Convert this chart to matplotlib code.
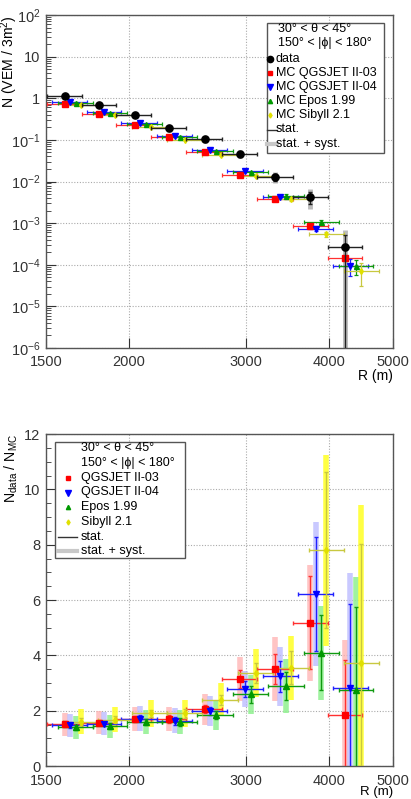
import numpy as np
import matplotlib
matplotlib.use('Agg')
import matplotlib.pyplot as plt
from matplotlib.ticker import FixedLocator, FuncFormatter, LogLocator, MultipleLocator, NullLocator, NullFormatter
from matplotlib.patches import Rectangle
from matplotlib.lines import Line2D

plt.rcParams['font.family'] = ['Liberation Sans', 'DejaVu Sans']
plt.rcParams['mathtext.fontset'] = 'custom'
plt.rcParams['mathtext.rm'] = 'Liberation Sans'
plt.rcParams['mathtext.it'] = 'Liberation Sans:italic'
plt.rcParams['mathtext.bf'] = 'Liberation Sans:bold'

# ---------------- data ----------------
R_center = [1600, 1800, 2040, 2300, 2600, 2940, 3320, 3750, 4230]
R_edges = [1505, 1700, 1910, 2160, 2440, 2760, 3120, 3530, 3985, 4495]

data_N = [1.12, 0.67, 0.40, 0.19, 0.103, 0.047, 0.0129, 0.0043, 2.6e-4]
data_stat_rel = [0.03, 0.03, 0.04, 0.05, 0.06, 0.10, 0.20, 0.32, 1.04]
data_tot_rel = [0.15, 0.15, 0.16, 0.17, 0.18, 0.22, 0.30, 0.50, 1.70]

qgs03_N = [0.74, 0.42, 0.225, 0.115, 0.050, 0.0147, 0.0037, 8.4e-4, 1.45e-4]
qgs04_N = [0.80, 0.46, 0.25, 0.125, 0.056, 0.0175, 0.0043, 7.2e-4, 9.5e-5]
epos_N = [0.78, 0.44, 0.24, 0.118, 0.053, 0.0165, 0.0046, 1.08e-3, 9.2e-5]
sib_N = [0.70, 0.39, 0.205, 0.101, 0.043, 0.0138, 0.0037, 5.4e-4, 7.0e-5]

qgs03_rel = [0.02, 0.02, 0.03, 0.03, 0.04, 0.05, 0.07, 0.12, 0.12]
qgs04_rel = [0.02, 0.02, 0.03, 0.03, 0.04, 0.05, 0.07, 0.12, 0.42]
epos_rel = [0.02, 0.02, 0.03, 0.03, 0.04, 0.05, 0.07, 0.10, 0.38]
sib_rel = [0.02, 0.02, 0.03, 0.03, 0.04, 0.05, 0.08, 0.15, 0.55]

ratio_qgs03 = [1.51, 1.57, 1.70, 1.70, 2.05, 3.14, 3.50, 5.17, 1.85]
ratio_qgs04 = [1.47, 1.53, 1.71, 1.63, 1.99, 2.79, 3.24, 6.21, 2.81]
ratio_epos = [1.40, 1.44, 1.59, 1.59, 1.85, 2.59, 2.88, 4.09, 2.74]
ratio_sib = [1.60, 1.68, 1.90, 1.90, 2.40, 3.36, 3.55, 7.80, 3.74]

ratio_qgs03_stat = [0.10, 0.10, 0.12, 0.13, 0.15, 0.33, 0.55, 1.68, 1.97]
ratio_qgs03_tot = [0.42, 0.42, 0.45, 0.45, 0.55, 0.80, 1.15, 2.10, 2.70]
ratio_qgs04_stat = [0.10, 0.10, 0.12, 0.13, 0.15, 0.30, 0.55, 2.05, 3.04]
ratio_qgs04_tot = [0.42, 0.42, 0.45, 0.45, 0.55, 0.65, 1.07, 2.60, 4.15]
ratio_epos_stat = [0.10, 0.10, 0.12, 0.13, 0.15, 0.30, 0.50, 1.35, 3.00]
ratio_epos_tot = [0.42, 0.42, 0.45, 0.45, 0.55, 0.70, 0.97, 1.70, 4.10]
ratio_sib_stat = [0.12, 0.12, 0.14, 0.15, 0.18, 0.35, 0.60, 2.83, 4.30]
ratio_sib_tot = [0.45, 0.45, 0.50, 0.50, 0.60, 0.87, 1.15, 3.45, 5.70]

labels_top = ['data', 'MC QGSJET II-03', 'MC QGSJET II-04', 'MC Epos 1.99', 'MC Sibyll 2.1']
labels_bot = ['QGSJET II-03', 'QGSJET II-04', 'Epos 1.99', 'Sibyll 2.1']
header = ['30° < θ < 45°', '150° < |ϕ| < 180°']
xticks = [1500, 2000, 3000, 4000, 5000]

# ---------------- style ----------------
W, H = 411, 799
fig = plt.figure(figsize=(W / 100, H / 100), dpi=100)


def fx(px):
    return px / W


def fy(py):
    return 1 - py / H


ax1 = fig.add_axes([fx(46), fy(348), fx(393) - fx(46), fy(15) - fy(348)])
ax2 = fig.add_axes([fx(46), fy(766), fx(393) - fx(46), fy(434) - fy(766)])

series = [
    dict(c='#ff0000', band='#ffb0b0', m='s', ms=4.0, shift=1.000, ec='#ff3030'),
    dict(c='#0000ff', band='#b8b8ff', m='v', ms=4.3, shift=1.019, ec='#2020ff'),
    dict(c='#009900', band='#8ff08f', m='^', ms=3.6, shift=1.039, ec='#109a10'),
    dict(c='#e0e000', band='#ffff30', m='d', ms=3.0, shift=1.058, ec='#c8c840'),
]

R = np.array(R_center, float)
lo = np.array(R_edges[:-1], float)
hi = np.array(R_edges[1:], float)
frame_c = '#555555'


def style_axes(ax, xpad):
    ax.set_xscale('log')
    ax.set_xlim(1500, 5000)
    ax.xaxis.set_major_locator(FixedLocator(xticks))
    ax.xaxis.set_major_formatter(FuncFormatter(lambda v, p: f'{int(round(v))}'))
    ax.xaxis.set_minor_locator(NullLocator())
    ax.xaxis.set_minor_formatter(NullFormatter())
    for s in ax.spines.values():
        s.set_color(frame_c)
        s.set_linewidth(1.0)
    ax.tick_params(which='both', direction='in', colors='#333333', labelsize=10.5,
                   top=False, right=False)
    ax.tick_params(axis='y', which='major', length=7, pad=4)
    ax.tick_params(axis='y', which='minor', length=3.5)
    ax.tick_params(axis='x', which='major', length=7, pad=xpad)
    ax.grid(True, which='major', ls=(0, (1, 1.5)), color='#aaaaaa', lw=0.8)
    ax.set_axisbelow(True)


# ---------------- top panel ----------------
ax = ax1
style_axes(ax, 5)
ax.set_yscale('log')
ax.set_ylim(1e-6, 1e2)
ax.yaxis.set_major_locator(LogLocator(base=10, numticks=20))
ax.yaxis.set_minor_locator(LogLocator(base=10, subs=np.arange(2, 10), numticks=20))
ax.yaxis.set_minor_formatter(NullFormatter())


def logfmt(v, p):
    e = int(round(np.log10(v)))
    if e == 0:
        return '1'
    if e == 1:
        return '10'
    return r'10$^{%d}$' % e


ax.yaxis.set_major_formatter(FuncFormatter(logfmt))

dN = np.array(data_N)
st_up = dN * np.array(data_stat_rel)
st_lo = np.minimum(st_up, dN - 1e-9)
tt_up = dN * np.array(data_tot_rel)
tt_lo = np.minimum(tt_up, dN - 1e-9)

ax.errorbar(R, dN, yerr=[tt_lo, tt_up], fmt='none', ecolor='#bbbbbb', elinewidth=3.5,
            capsize=0, zorder=2)

for vals, rel, st in zip([qgs03_N, qgs04_N, epos_N, sib_N],
                         [qgs03_rel, qgs04_rel, epos_rel, sib_rel], series):
    v = np.array(vals)
    e = v * np.array(rel)
    x = R * st['shift']
    ax.errorbar(x, v, yerr=e, xerr=[x - lo * st['shift'], hi * st['shift'] - x],
                fmt=st['m'], color=st['c'], ms=st['ms'], mec=st['c'], ecolor=st['ec'],
                elinewidth=0.9, capsize=1.6, capthick=0.9, zorder=3)

ax.errorbar(R, dN, yerr=[st_lo, st_up], xerr=[R - lo, hi - R], fmt='o', color='black',
            ms=5.2, ecolor='#222222', elinewidth=1.0, capsize=1.6, capthick=1.0, zorder=4)

ax.set_ylabel('N (VEM / 3m$^{2}$)', fontsize=10.2, loc='top')
ax.yaxis.set_label_coords(-0.074, 1.0)
ax.set_xlabel('R (m)', fontsize=10, loc='right')
ax.xaxis.set_label_coords(1.0, -0.064)

# legend top (manual)
fig.patches.append(Rectangle((fx(267), fy(153)), fx(384) - fx(267), fy(23) - fy(153),
                             transform=fig.transFigure, fill=True, facecolor='white',
                             edgecolor='#555555', lw=1.0, zorder=10))
ty = [29, 43, 59, 73, 87, 101, 115, 129.5, 144]
for t, yy in zip(header, ty[:2]):
    fig.text(fx(278), fy(yy), t, fontsize=9, va='center', ha='left', zorder=11)
mk_styles = [dict(c='black', m='o', ms=4.5)] + [dict(c=s['c'], m=s['m'], ms=s['ms'] * 0.85) for s in series]
for lab, yy, st in zip(labels_top, ty[2:7], mk_styles):
    fig.lines.append(Line2D([fx(270)], [fy(yy)], transform=fig.transFigure, marker=st['m'],
                            color=st['c'], ms=st['ms'], ls='none', zorder=11))
    fig.text(fx(276), fy(yy), lab, fontsize=9, va='center', ha='left', zorder=11)
fig.lines.append(Line2D([fx(267), fx(277)], [fy(ty[7]), fy(ty[7])], transform=fig.transFigure,
                        color='#333333', lw=1.0, zorder=11))
fig.text(fx(276), fy(ty[7]), 'stat.', fontsize=9, va='center', ha='left', zorder=11)
fig.lines.append(Line2D([fx(267), fx(277)], [fy(ty[8]), fy(ty[8])], transform=fig.transFigure,
                        color='#c8c8c8', lw=3.0, zorder=11))
fig.text(fx(276), fy(ty[8]), 'stat. + syst.', fontsize=9, va='center', ha='left', zorder=11)

# ---------------- bottom panel ----------------
ax = ax2
style_axes(ax, 5.5)
ax.set_ylim(0, 12)
ax.yaxis.set_major_locator(MultipleLocator(2))
ax.yaxis.set_minor_locator(MultipleLocator(0.5))
ax.yaxis.set_major_formatter(FuncFormatter(lambda v, p: f'{int(round(v))}'))

band_alpha = [0.75, 0.75, 0.85, 0.9]
for vals, stat, tot, st, ba in zip([ratio_qgs03, ratio_qgs04, ratio_epos, ratio_sib],
                                   [ratio_qgs03_stat, ratio_qgs04_stat, ratio_epos_stat, ratio_sib_stat],
                                   [ratio_qgs03_tot, ratio_qgs04_tot, ratio_epos_tot, ratio_sib_tot],
                                   series, band_alpha):
    v = np.array(vals)
    x = R * st['shift']
    ax.errorbar(x, v, yerr=tot, fmt='none', ecolor=st['band'], elinewidth=4.0, capsize=0,
                alpha=ba, zorder=2)
for vals, stat, st in zip([ratio_qgs03, ratio_qgs04, ratio_epos, ratio_sib],
                          [ratio_qgs03_stat, ratio_qgs04_stat, ratio_epos_stat, ratio_sib_stat],
                          series):
    v = np.array(vals)
    x = R * st['shift']
    ax.errorbar(x, v, yerr=stat, xerr=[x - lo * st['shift'], hi * st['shift'] - x],
                fmt=st['m'], color=st['c'], ms=st['ms'] * 1.1, mec=st['c'], ecolor=st['ec'],
                elinewidth=1.0, capsize=1.6, capthick=1.0, zorder=3)

ax.set_ylabel(r'N$_{\mathregular{data}}$ / N$_{\mathregular{MC}}$', fontsize=10.2, loc='top')
ax.yaxis.set_label_coords(-0.074, 1.0)
ax.set_xlabel('R (m)', fontsize=9.5, loc='right')
ax.xaxis.set_label_coords(1.0, -0.059)

# legend bottom (manual)
fig.patches.append(Rectangle((fx(55), fy(558)), fx(185) - fx(55), fy(442) - fy(558),
                             transform=fig.transFigure, fill=True, facecolor='white',
                             edgecolor='#555555', lw=1.0, zorder=10))
by = [448, 463, 478, 492.5, 507, 521.5, 537, 551]
for t, yy in zip(header, by[:2]):
    fig.text(fx(81), fy(yy), t, fontsize=9, va='center', ha='left', zorder=11)
for lab, yy, st in zip(labels_bot, by[2:6], series):
    fig.lines.append(Line2D([fx(68)], [fy(yy)], transform=fig.transFigure, marker=st['m'],
                            color=st['c'], ms=st['ms'] * 0.85, ls='none', zorder=11))
    fig.text(fx(81), fy(yy), lab, fontsize=9, va='center', ha='left', zorder=11)
fig.lines.append(Line2D([fx(58), fx(77)], [fy(by[6]), fy(by[6])], transform=fig.transFigure,
                        color='#333333', lw=1.0, zorder=11))
fig.text(fx(81), fy(by[6]), 'stat.', fontsize=9, va='center', ha='left', zorder=11)
fig.lines.append(Line2D([fx(58), fx(77)], [fy(by[7]), fy(by[7])], transform=fig.transFigure,
                        color='#c8c8c8', lw=3.0, zorder=11))
fig.text(fx(81), fy(by[7]), 'stat. + syst.', fontsize=9, va='center', ha='left', zorder=11)

fig.savefig('out.png', dpi=100)
